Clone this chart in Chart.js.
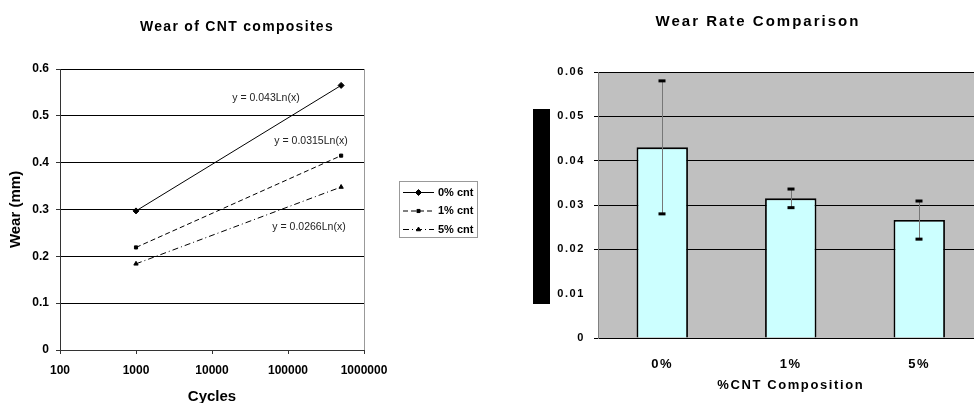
<!DOCTYPE html>
<html>
<head>
<meta charset="utf-8">
<script src="https://cdn.jsdelivr.net/npm/chart.js@4.4.1/dist/chart.umd.min.js"></script>
<style>
    html, body { margin: 0; padding: 0; background: #fff; overflow: hidden; }
    #wrap { position: relative; width: 974px; height: 403px; overflow: hidden; }
    #wearChart { position: absolute; left: 0; top: 0; }
    #rateChart { position: absolute; left: 490px; top: 0; }
</style>
</head>
<body>
<div id="wrap">
    <canvas id="wearChart" width="490" height="403"></canvas>
    <canvas id="rateChart" width="510" height="403"></canvas>
</div>
<script>
// Wear vs cycles (left chart)
const cycles = [1000, 500000];
const wear0 = [0.297, 0.565];
const wear1 = [0.219, 0.415];
const wear5 = [0.184, 0.348];
const seriesNames = ['0% cnt', '1% cnt', '5% cnt'];
const trendLabels = ['y = 0.043Ln(x)', 'y = 0.0315Ln(x)', 'y = 0.0266Ln(x)'];
const cycleTicks = [100, 1000, 10000, 100000, 1000000];
const wearTicks = [0, 0.1, 0.2, 0.3, 0.4, 0.5, 0.6];

// Wear rate comparison (right chart)
const compositions = ['0%', '1%', '5%'];
const wearRate = [0.043, 0.0315, 0.0266];
const wearRateErr = [0.015, 0.0021, 0.0043];
const rateTicks = [0, 0.01, 0.02, 0.03, 0.04, 0.05, 0.06];

Chart.defaults.font.family = '"Liberation Sans", Arial, sans-serif';
Chart.defaults.color = '#000';

const toPoints = ys => cycles.map((c, i) => ({ x: c, y: ys[i] }));

// title, right frame line, trendline labels and legend for the left chart
const wearExtras = {
    id: 'wearExtras',
    afterDraw(chart) {
        const ctx = chart.ctx;
        const area = chart.chartArea;
        ctx.save();

        ctx.strokeStyle = '#999';
        ctx.lineWidth = 1;
        ctx.beginPath();
        ctx.moveTo(Math.round(area.right) + 0.5, area.top);
        ctx.lineTo(Math.round(area.right) + 0.5, area.bottom);
        ctx.stroke();

        ctx.fillStyle = '#000';
        ctx.textAlign = 'center';
        ctx.textBaseline = 'middle';
        ctx.letterSpacing = '1.3px';
        ctx.font = 'bold 14px "Liberation Sans", Arial, sans-serif';
        ctx.fillText('Wear of CNT composites', 237, 27);
        ctx.letterSpacing = '0px';

        const trendPos = [[266, 98], [311, 141], [309, 227]];
        ctx.font = '10.5px "Liberation Sans", Arial, sans-serif';
        ctx.fillStyle = '#222';
        trendLabels.forEach((t, i) => ctx.fillText(t, trendPos[i][0], trendPos[i][1]));

        // legend
        ctx.strokeStyle = '#999';
        ctx.strokeRect(399.5, 181.5, 78, 56);
        ctx.font = 'bold 11px "Liberation Sans", Arial, sans-serif';
        ctx.textAlign = 'left';
        chart.data.datasets.forEach((ds, i) => {
            const y = 192.5 + i * 18.5;
            ctx.strokeStyle = '#000';
            ctx.setLineDash(ds.borderDash || []);
            ctx.beginPath();
            ctx.moveTo(403, y);
            ctx.lineTo(434, y);
            ctx.stroke();
            ctx.setLineDash([]);
            ctx.fillStyle = '#000';
            Chart.helpers.drawPoint(ctx, {
                pointStyle: ds.pointStyle, radius: ds.pointRadius, rotation: 0, borderWidth: 1
            }, 418.5, y);
            ctx.fillStyle = '#000';
            ctx.fillText(ds.label, 438, y);
        });
        ctx.restore();
    }
};

new Chart(document.getElementById('wearChart'), {
    type: 'line',
    data: {
        datasets: [
            {
                label: seriesNames[0], data: toPoints(wear0),
                borderColor: '#000', borderWidth: 1,
                pointStyle: 'rectRot', pointRadius: 3,
                pointBackgroundColor: '#000', pointBorderColor: '#000'
            },
            {
                label: seriesNames[1], data: toPoints(wear1),
                borderColor: '#000', borderWidth: 1, borderDash: [5, 3],
                pointStyle: 'rect', pointRadius: 2.2,
                pointBackgroundColor: '#000', pointBorderColor: '#000'
            },
            {
                label: seriesNames[2], data: toPoints(wear5),
                borderColor: '#000', borderWidth: 1, borderDash: [6, 3, 1, 3],
                pointStyle: 'triangle', pointRadius: 2.5,
                pointBackgroundColor: '#000', pointBorderColor: '#000'
            }
        ]
    },
    options: {
        responsive: false,
        animation: false,
        layout: { padding: { top: 69, right: 126, bottom: 0, left: 0 } },
        plugins: {
            legend: { display: false },
            title: { display: false },
            tooltip: { enabled: false }
        },
        scales: {
            x: {
                type: 'logarithmic',
                min: 100,
                max: 1000000,
                afterBuildTicks: s => { s.ticks = cycleTicks.map(v => ({ value: v })); },
                afterFit: s => { s.height = 53; },
                ticks: {
                    callback: v => String(v),
                    font: { size: 12, weight: 'bold' },
                    padding: 9,
                    maxRotation: 0,
                    autoSkip: false
                },
                grid: { drawOnChartArea: false, drawTicks: true, tickLength: 4, color: '#333' },
                border: { color: '#333' },
                title: {
                    display: true, text: 'Cycles',
                    font: { size: 15, weight: 'bold', lineHeight: 0.8 },
                    padding: { top: 0, bottom: 0 }
                }
            },
            y: {
                min: 0,
                max: 0.6,
                afterBuildTicks: s => { s.ticks = wearTicks.map(v => ({ value: v })); },
                afterFit: s => { s.width = 60; },
                ticks: {
                    callback: v => String(v),
                    font: { size: 12, weight: 'bold' },
                    padding: 7
                },
                grid: {
                    color: c => (c.tick && c.tick.value === 0) ? 'rgba(0,0,0,0)' : '#000',
                    tickColor: '#333',
                    tickLength: 4
                },
                border: { color: '#333' },
                title: {
                    display: true, text: 'Wear (mm)',
                    font: { size: 15, weight: 'bold', lineHeight: 1 },
                    padding: { top: 8.5, bottom: 0 }
                }
            }
        }
    },
    plugins: [wearExtras]
});

// background, error bars, title and the black side block for the right chart
const rateExtras = {
    id: 'rateExtras',
    beforeDraw(chart) {
        const ctx = chart.ctx;
        const area = chart.chartArea;
        ctx.fillStyle = '#c0c0c0';
        ctx.fillRect(area.left, area.top, area.right - area.left, area.bottom - area.top);
        ctx.letterSpacing = '1.6px';
    },
    afterDatasetsDraw(chart) {
        const ctx = chart.ctx;
        const yScale = chart.scales.y;
        const meta = chart.getDatasetMeta(0);
        ctx.save();
        meta.data.forEach((bar, i) => {
            const x = Math.round(bar.x) + 0.5;
            const yTop = yScale.getPixelForValue(wearRate[i] + wearRateErr[i]);
            const yBot = yScale.getPixelForValue(wearRate[i] - wearRateErr[i]);
            ctx.strokeStyle = '#777';
            ctx.lineWidth = 1;
            ctx.beginPath();
            ctx.moveTo(x, yTop);
            ctx.lineTo(x, yBot);
            ctx.stroke();
            ctx.fillStyle = '#000';
            ctx.fillRect(x - 4, yTop - 1.5, 7, 3);
            ctx.fillRect(x - 4, yBot - 1.5, 7, 3);
        });
        ctx.restore();
    },
    afterDraw(chart) {
        const ctx = chart.ctx;
        ctx.save();
        ctx.fillStyle = '#000';
        ctx.textAlign = 'center';
        ctx.textBaseline = 'middle';
        ctx.letterSpacing = '2px';
        ctx.font = 'bold 15px "Liberation Sans", Arial, sans-serif';
        ctx.fillText('Wear Rate Comparison', 268, 22);
        ctx.fillRect(43, 109, 17, 195);
        ctx.restore();
    }
};

new Chart(document.getElementById('rateChart'), {
    type: 'bar',
    data: {
        labels: compositions,
        datasets: [{
            data: wearRate,
            backgroundColor: '#ccffff',
            borderColor: '#000',
            borderWidth: 1.8,
            borderSkipped: 'bottom',
            barPercentage: 0.4,
            categoryPercentage: 1
        }]
    },
    options: {
        responsive: false,
        animation: false,
        layout: { padding: { top: 72, right: 16.5, bottom: 0, left: 0 } },
        plugins: {
            legend: { display: false },
            title: { display: false },
            tooltip: { enabled: false }
        },
        scales: {
            x: {
                afterFit: s => { s.height = 65; },
                ticks: { font: { size: 13, weight: 'bold' }, padding: 19 },
                grid: { display: false, drawTicks: false },
                border: { color: '#000' },
                title: {
                    display: true, text: '%CNT Composition',
                    font: { size: 13, weight: 'bold', lineHeight: 1.2 },
                    padding: { top: 0, bottom: 10 }
                }
            },
            y: {
                min: 0,
                max: 0.06,
                afterBuildTicks: s => { s.ticks = rateTicks.map(v => ({ value: v })); },
                afterFit: s => { s.width = 108; },
                ticks: {
                    callback: v => String(v),
                    font: { size: 11, weight: 'bold' },
                    padding: 9
                },
                grid: {
                    color: c => (c.tick && (c.tick.value === 0 || c.tick.value === 0.01)) ? 'rgba(0,0,0,0)' : '#000',
                    tickColor: c => (c.tick && c.tick.value === 0.01) ? 'rgba(0,0,0,0)' : '#000',
                    tickLength: 4
                },
                border: { color: '#808080' }
            }
        }
    },
    plugins: [rateExtras]
});
</script>
</body>
</html>
